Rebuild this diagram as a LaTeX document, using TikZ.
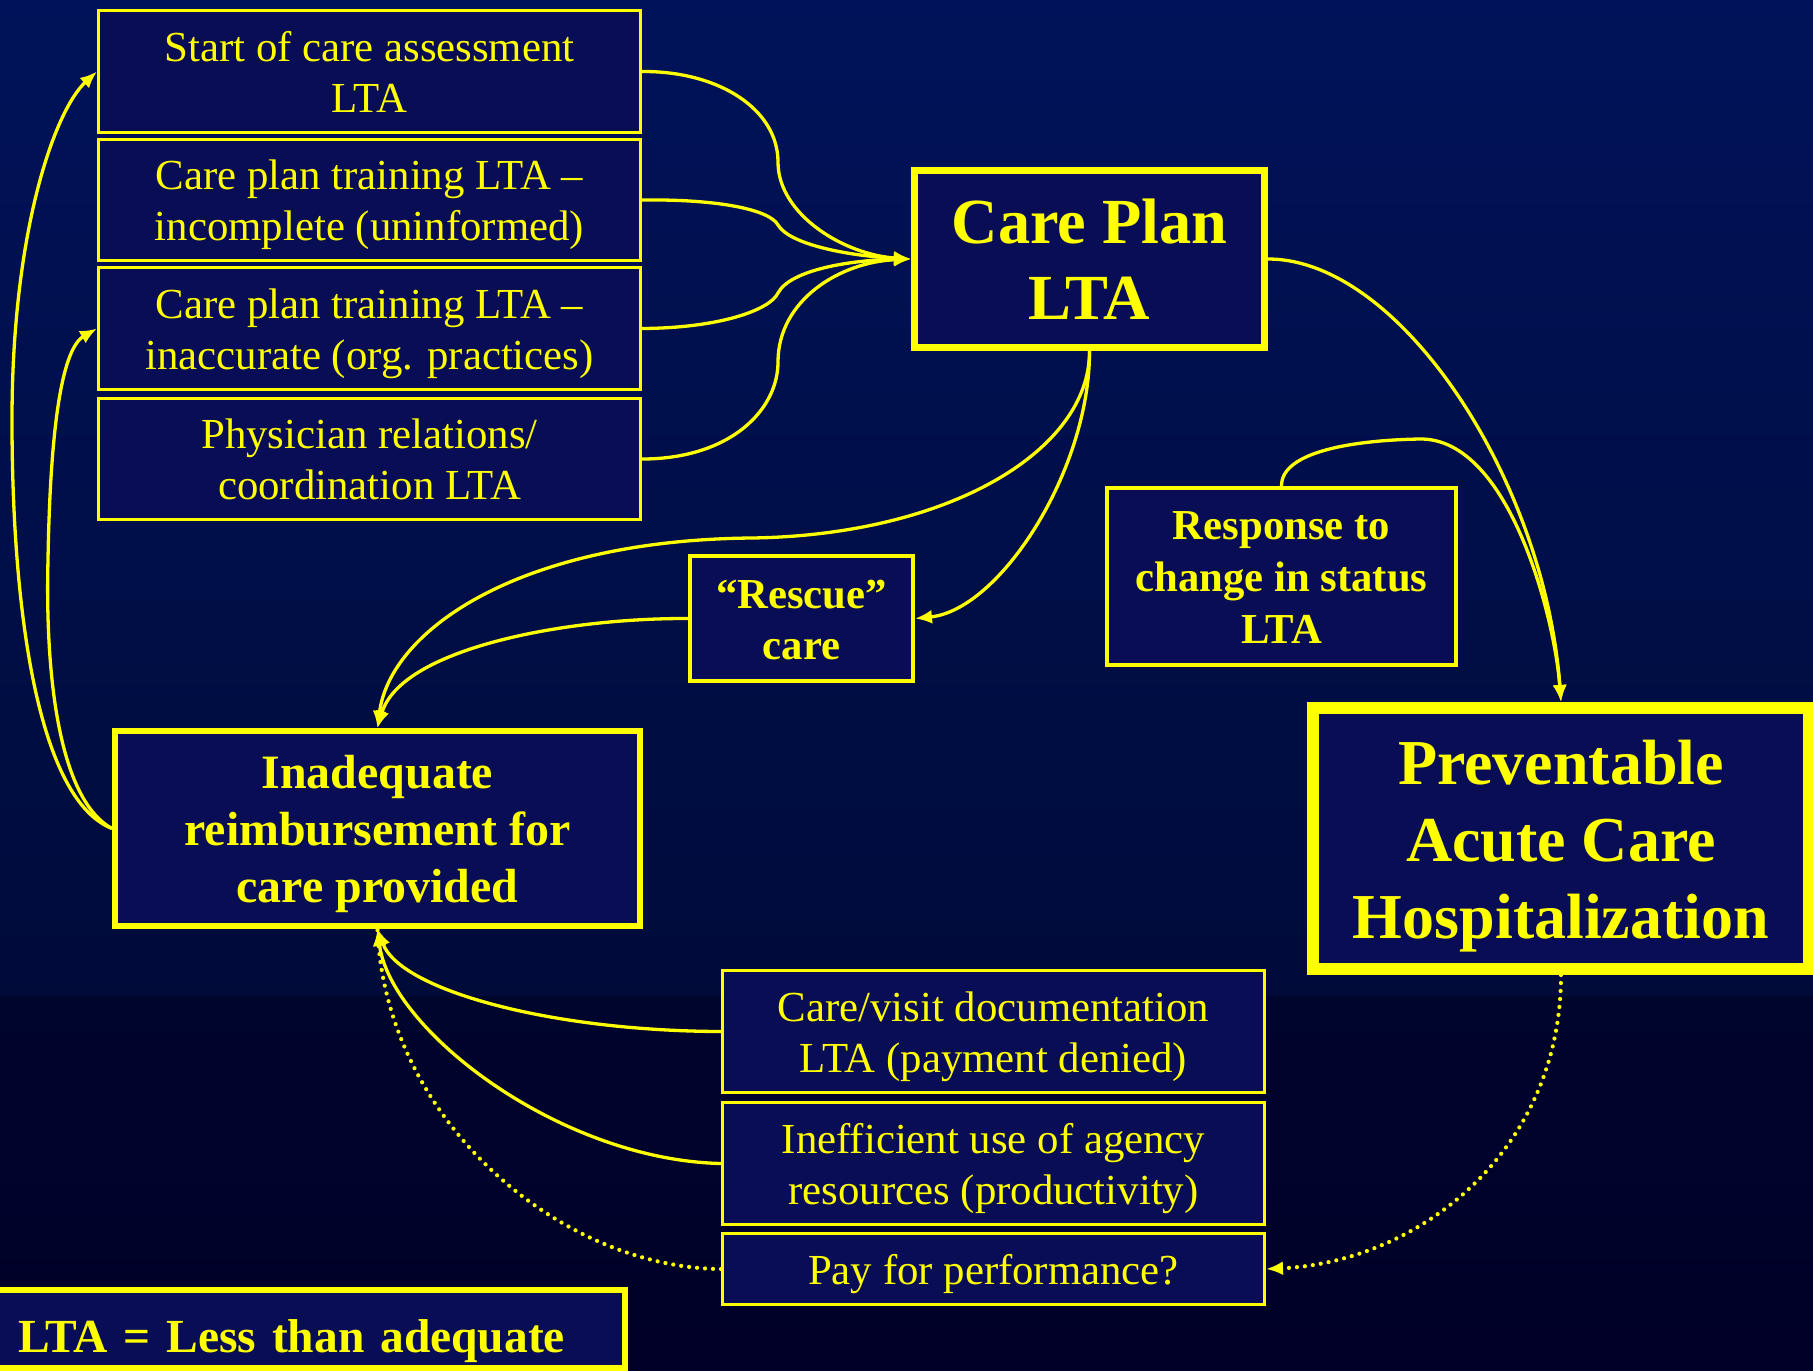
\documentclass[tikz,border=0pt]{standalone}
\usepackage{fontspec}
\setmainfont{Liberation Serif}
\usetikzlibrary{arrows.meta}
\definecolor{ylw}{RGB}{255,255,0}
\definecolor{boxfill}{RGB}{9,13,86}
\definecolor{bgtop}{RGB}{0,19,90}
\definecolor{bgmid}{RGB}{0,11,58}
\definecolor{bglow}{RGB}{0,5,46}
\definecolor{bgbot}{RGB}{0,0,40}
\newcommand\ppstrut{\rule[-0.216em]{0pt}{1.14em}}
\newcommand\pptall{\rule{0pt}{1.19em}}
\begin{document}
\begin{tikzpicture}[x=1pt,y=-1pt,
  lbox/.style={draw=ylw, fill=boxfill, text=ylw, line width=3pt, align=center, inner sep=0pt},
  reg/.style={lbox, font=\fontsize{42.8}{51}\selectfont},
  conn/.style={draw=ylw, line width=3.3pt},
  arr/.style={-{Latex[length=17pt,width=14pt]}},
  dotline/.style={draw=ylw, line width=4.2pt, line cap=round, dash pattern=on 0pt off 8pt}
]
\useasboundingbox (0,0) rectangle (1813,1371);
\clip (0,0) rectangle (1813,1371);
\shade[top color=bgtop, bottom color=bgmid] (0,0) rectangle (1813,996);
\shade[top color=bglow, bottom color=bgbot] (0,996) rectangle (1813,1371);

% nodes
\node[reg, minimum width=542pt, minimum height=122pt] (b1) at (369.5,71.5) {\ppstrut Start of care assessment\\LTA\ppstrut};
\node[reg, minimum width=542pt, minimum height=121pt] (b2) at (369.5,200) {\ppstrut Care plan training LTA –\\incomplete (uninformed)\ppstrut};
\node[reg, minimum width=542pt, minimum height=122pt] (b3) at (369.5,328.5) {\ppstrut Care plan training LTA –\\inaccurate (org. practices)\ppstrut};
\node[reg, minimum width=542pt, minimum height=121pt] (b4) at (369.5,459) {\ppstrut Physician relations/\\coordination LTA\ppstrut};
\node[lbox, line width=7pt, font=\bfseries\fontsize{64.3}{76}\selectfont, minimum width=350pt, minimum height=177pt] (care) at (1089.5,259) {\ppstrut Care Plan\\LTA\ppstrut};
\node[lbox, line width=4pt, font=\bfseries\fontsize{42.7}{51}\selectfont, minimum width=223pt, minimum height=125pt] (rescue) at (801.5,618.5) {\ppstrut “Rescue”\\care\ppstrut};
\node[lbox, line width=4pt, font=\bfseries\fontsize{42.7}{52}\selectfont, minimum width=349pt, minimum height=177pt] (resp) at (1281.5,576.5) {\ppstrut Response to\\change in status\\LTA\ppstrut};
\node[lbox, line width=12pt, font=\bfseries\fontsize{64}{77}\selectfont, minimum width=496pt, minimum height=261pt] (prev) at (1561,838.5) {\ppstrut Preventable\\Acute Care\\Hospitalization\ppstrut};
\node[lbox, line width=6pt, font=\bfseries\fontsize{47.9}{57}\selectfont, minimum width=525pt, minimum height=195pt] (inad) at (377.5,828.5) {\ppstrut Inadequate\\reimbursement for\\care provided\ppstrut};
\node[reg, minimum width=542pt, minimum height=122pt] (doc) at (993.5,1031.5) {\ppstrut Care/visit documentation\\LTA (payment denied)\ppstrut};
\node[reg, minimum width=542pt, minimum height=122pt] (ineff) at (993.5,1163.5) {\ppstrut Inefficient use of agency\\resources (productivity)\ppstrut};
\node[reg, minimum width=542pt, minimum height=71pt] (pay) at (993.5,1269) {\ppstrut Pay for performance?\ppstrut};
\node[lbox, line width=6pt, font=\bfseries\fontsize{47.5}{55}\selectfont, minimum height=78pt, text width=569pt, inner xsep=38pt, align=left, anchor=north west] (leg) at (-23,1287) {\pptall\ppstrut LTA = Less than adequate\ppstrut};

% connectors into Care Plan
\draw[conn, arr] (b1.east) .. controls (720,71) and (778,110) .. (778,162) .. controls (778,215) and (845,255) .. (care.west);
\draw[conn, arr] (b2.east) .. controls (720,199) and (770,210) .. (778,225) .. controls (790,245) and (850,256) .. (care.west);
\draw[conn, arr] (b3.east) .. controls (720,328) and (770,310) .. (778,293) .. controls (790,270) and (850,260) .. (care.west);
\draw[conn, arr] (b4.east) .. controls (730,459) and (778,410) .. (778,362) .. controls (778,300) and (840,262) .. (care.west);

% from Care Plan
\draw[conn, arr] (care.south) .. controls (1090,450) and (950,535) .. (752,538) .. controls (520,540) and (390,630) .. (inad.north);
\draw[conn, arr] (care.south) .. controls (1090,470) and (1000,610) .. (rescue.east);
\draw[conn, arr] (rescue.west) .. controls (560,618) and (400,650) .. (inad.north);
\draw[conn, arr] (care.east) .. controls (1400,259) and (1545,480) .. (prev.north);
\draw[conn, arr] (resp.north) .. controls (1281,450) and (1360,440) .. (1420,439) .. controls (1510,438) and (1555,620) .. (prev.north);

% feedback to left boxes
\draw[conn, arr] (inad.west) .. controls (40,800) and (12,620) .. (12,420) .. controls (12,230) and (55,110) .. (b1.west);
\draw[conn, arr] (inad.west) .. controls (60,800) and (45,680) .. (48,560) .. controls (50,440) and (60,350) .. (b3.west);

% into Inadequate reimbursement
\draw[conn, arr] (doc.west) .. controls (550,1031) and (400,990) .. (inad.south);
\draw[conn, arr] (ineff.west) .. controls (560,1160) and (390,1030) .. (inad.south);
\draw[dotline] (pay.west) .. controls (560,1268) and (385,1120) .. (inad.south);
\draw[dotline, arr] (prev.south) .. controls (1561,1150) and (1420,1262) .. (pay.east);
\end{tikzpicture}
\end{document}
